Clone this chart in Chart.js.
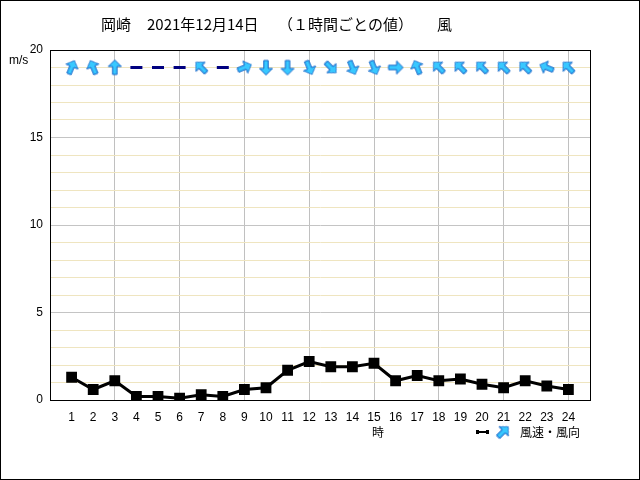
<!DOCTYPE html>
<html>
<head>
<meta charset="utf-8">
<script src="https://cdn.jsdelivr.net/npm/chart.js@4/dist/chart.umd.min.js"></script>
<style>
  html, body { margin: 0; padding: 0; background: #fff; }
  #wrap { width: 640px; height: 480px; }
</style>
</head>
<body>
<div id="wrap"><canvas id="myChart" width="640" height="480"></canvas></div>
<script>
const hours = [1, 2, 3, 4, 5, 6, 7, 8, 9, 10, 11, 12, 13, 14, 15, 16, 17, 18, 19, 20, 21, 22, 23, 24];
const windSpeed = [1.3, 0.6, 1.1, 0.2, 0.2, 0.1, 0.3, 0.2, 0.6, 0.7, 1.7, 2.2, 1.9, 1.9, 2.1, 1.1, 1.4, 1.1, 1.2, 0.9, 0.7, 1.1, 0.8, 0.6];
// 風向（風が吹いてくる方向）
const windDir = ["南南西", "南南東", "南", "静穏", "静穏", "静穏", "南東", "静穏", "西南西", "北", "北", "北北西",
  "北西", "北北西", "北北西", "西", "南南東", "南東", "南東", "南東", "南東", "南東", "東南東", "南東"];
const yTicks = [0, 5, 10, 15, 20];
const arrowRowValue = 19;

// タイトルは区切りごとに配置
const titleParts = [["岡崎", 101], ["2021年12月14日", 147], ["（１時間ごとの値）", 278], ["風", 437]];
const compass = ["北", "北北東", "北東", "東北東", "東", "東南東", "南東", "南南東",
  "南", "南南西", "南西", "西南西", "西", "西北西", "北西", "北北西"];

// 上向きの矢印を描いた小さなcanvas（pointStyle用）
function makeArrow() {
  const c = document.createElement("canvas");
  c.width = 18;
  c.height = 18;
  const g = c.getContext("2d");
  g.beginPath();
  g.moveTo(9, 1.5);
  g.lineTo(15.5, 8);
  g.lineTo(11.2, 8);
  g.lineTo(11.2, 16);
  g.lineTo(6.8, 16);
  g.lineTo(6.8, 8);
  g.lineTo(2.5, 8);
  g.closePath();
  g.fillStyle = "#38c8ff";
  g.fill();
  g.lineWidth = 1;
  g.strokeStyle = "#1464c8";
  g.stroke();
  return c;
}
const arrowImg = makeArrow();

const arrowPoints = [];
const arrowRot = [];
const calmPoints = [];
hours.forEach((h, i) => {
  const d = windDir[i];
  if (d === "静穏") {
    calmPoints.push({ x: h, y: arrowRowValue });
  } else {
    arrowPoints.push({ x: h, y: arrowRowValue });
    arrowRot.push((compass.indexOf(d) * 22.5 + 180) % 360);
  }
});

const extras = {
  id: "extras",
  beforeDraw(chart) {
    const ctx = chart.ctx;
    ctx.save();
    ctx.fillStyle = "#fff";
    ctx.fillRect(0, 0, chart.width, chart.height);
    ctx.restore();
  },
  afterDraw(chart) {
    const ctx = chart.ctx;
    const a = chart.chartArea;
    ctx.save();
    ctx.strokeStyle = "#000";
    ctx.lineWidth = 1;
    ctx.strokeRect(Math.round(a.left) + 0.5, Math.round(a.top) + 0.5,
      Math.round(a.right - a.left), Math.round(a.bottom - a.top));
    ctx.strokeRect(0.5, 0.5, chart.width - 1, chart.height - 1);

    ctx.fillStyle = "#000";
    ctx.textBaseline = "middle";
    ctx.font = '15px "Noto Sans CJK JP"';
    titleParts.forEach(([t, x]) => ctx.fillText(t, x, 24));

    ctx.font = '12px "Liberation Sans"';
    ctx.fillText("m/s", 9, 61);

    ctx.font = '12px "Noto Sans CJK JP"';
    ctx.textAlign = "center";
    ctx.fillText("時", 378, 432);
    ctx.textAlign = "left";
    ctx.fillText("風速・風向", 520, 432);

    // 凡例
    ctx.lineWidth = 2;
    ctx.beginPath();
    ctx.moveTo(477, 432);
    ctx.lineTo(488, 432);
    ctx.stroke();
    ctx.fillRect(476, 430, 3, 4);
    ctx.fillRect(486, 430, 3, 4);
    ctx.translate(503, 432);
    ctx.rotate(Math.PI / 4);
    ctx.drawImage(arrowImg, -9, -9);
    ctx.restore();
  }
};

const config = {
  type: "line",
  data: {
    datasets: [
      {
        label: "風速",
        data: hours.map((h, i) => ({ x: h, y: windSpeed[i] })),
        borderColor: "#000",
        backgroundColor: "#000",
        borderWidth: 3,
        pointStyle: "rect",
        pointRadius: 5.5,
        tension: 0,
      },
      {
        label: "風向",
        data: arrowPoints,
        showLine: false,
        pointStyle: arrowImg,
        pointRotation: arrowRot,
      },
      {
        label: "静穏",
        data: calmPoints,
        showLine: false,
        pointStyle: "line",
        pointRadius: 6,
        borderColor: "#000080",
        borderWidth: 3,
      },
    ],
  },
  options: {
    responsive: false,
    animation: false,
    devicePixelRatio: 1,
    layout: { padding: { top: 50, right: 50, left: 0, bottom: 0 } },
    plugins: { legend: { display: false }, tooltip: { enabled: false } },
    scales: {
      x: {
        type: "linear",
        min: 0,
        max: 25,
        afterBuildTicks(scale) {
          scale.ticks = [0, ...hours, 25].map((v) => ({ value: v }));
        },
        afterFit(scale) { scale.height = 80; },
        ticks: {
          autoSkip: false,
          maxRotation: 0,
          padding: 10,
          color: "#000",
          font: { family: "Liberation Sans", size: 12 },
          callback: (v) => (hours.includes(v) ? String(v) : ""),
        },
        grid: {
          drawTicks: false,
          color: (c) => (c.index % 3 === 0 && c.index > 0 && c.index < 25 ? "#c0c0c0" : "rgba(0,0,0,0)"),
        },
        border: { color: "#000" },
      },
      y: {
        min: 0,
        max: 20,
        ticks: {
          stepSize: 1,
          autoSkip: false,
          padding: 7,
          color: "#000",
          font: { family: "Liberation Sans", size: 12 },
          callback: (v) => (yTicks.includes(v) ? String(v) : ""),
        },
        afterFit(scale) { scale.width = 50; },
        grid: {
          drawTicks: false,
          color: (c) => (c.index % 5 === 0 ? "#c4c4c4" : "#efe5c0"),
        },
        border: { color: "#000" },
      },
    },
  },
  plugins: [extras],
};

const chartDOM = document.getElementById("myChart");
const myChart = new Chart(chartDOM, config);
</script>
</body>
</html>
